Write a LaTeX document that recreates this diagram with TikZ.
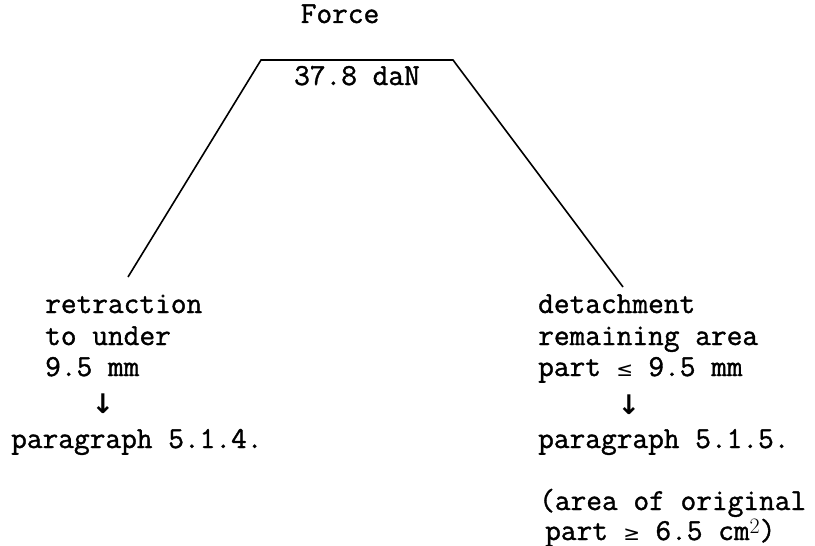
\documentclass[tikz,border=0pt]{standalone}
\usepackage{fontspec}
\setmonofont{Latin Modern Mono}[FakeBold=1.2]
\newfontfamily\symfont{DejaVu Sans}
\newcommand{\smallrel}[1]{{\fontsize{20}{20}\selectfont\symfont #1}}
\begin{document}
\begin{tikzpicture}[x=1pt,y=-1pt,
  txt/.style={anchor=base west, inner sep=0pt, font=\fontsize{30.5}{32}\selectfont\ttfamily},
  ctxt/.style={anchor=base, inner sep=0pt, font=\fontsize{30.5}{32}\selectfont\ttfamily},
  arr/.style={anchor=center, inner sep=0pt, font=\fontsize{27}{27}\selectfont\symfont\bfseries},
  leg/.style={line width=1.6pt, line join=miter}]
\useasboundingbox (0,0) rectangle (815,546);
% title and value
\node[ctxt] (force) at (340,23) {Force};
\node[ctxt] (val) at (357,85) {37.8 daN};
% trapezoid
\coordinate (lb) at (128,277);
\coordinate (tl) at (261,60);
\coordinate (tr) at (453,60);
\coordinate (rb) at (623,287);
\draw[leg] (lb) -- (tl) -- (tr) -- (rb);
% left column
\node[txt] (l1) at (45,313) {retraction};
\node[txt] (l2) at (45,345) {to under};
\node[txt] (l3) at (45,376) {9.5 mm};
\node[arr] (la) at (103,404) {↓};
\node[txt] (l4) at (11,448) {paragraph 5.1.4.};
% right column
\node[txt] (r1) at (538,313) {detachment};
\node[txt] (r2) at (538,345) {remaining area};
\node[txt] (r3) at (538,376) {part \makebox[0.525em]{\smallrel{≤}} 9.5 mm};
\node[arr] (ra) at (629,405) {↓};
\node[txt] (r4) at (538,448) {paragraph 5.1.5.};
\node[txt] (r5) at (539,510) {(area of original};
\node[txt] (r6) at (545,540) {part \makebox[0.525em]{\smallrel{≥}} 6.5 cm\raisebox{7pt}{\fontsize{22}{22}\selectfont\rmfamily 2})};
\end{tikzpicture}
\end{document}
